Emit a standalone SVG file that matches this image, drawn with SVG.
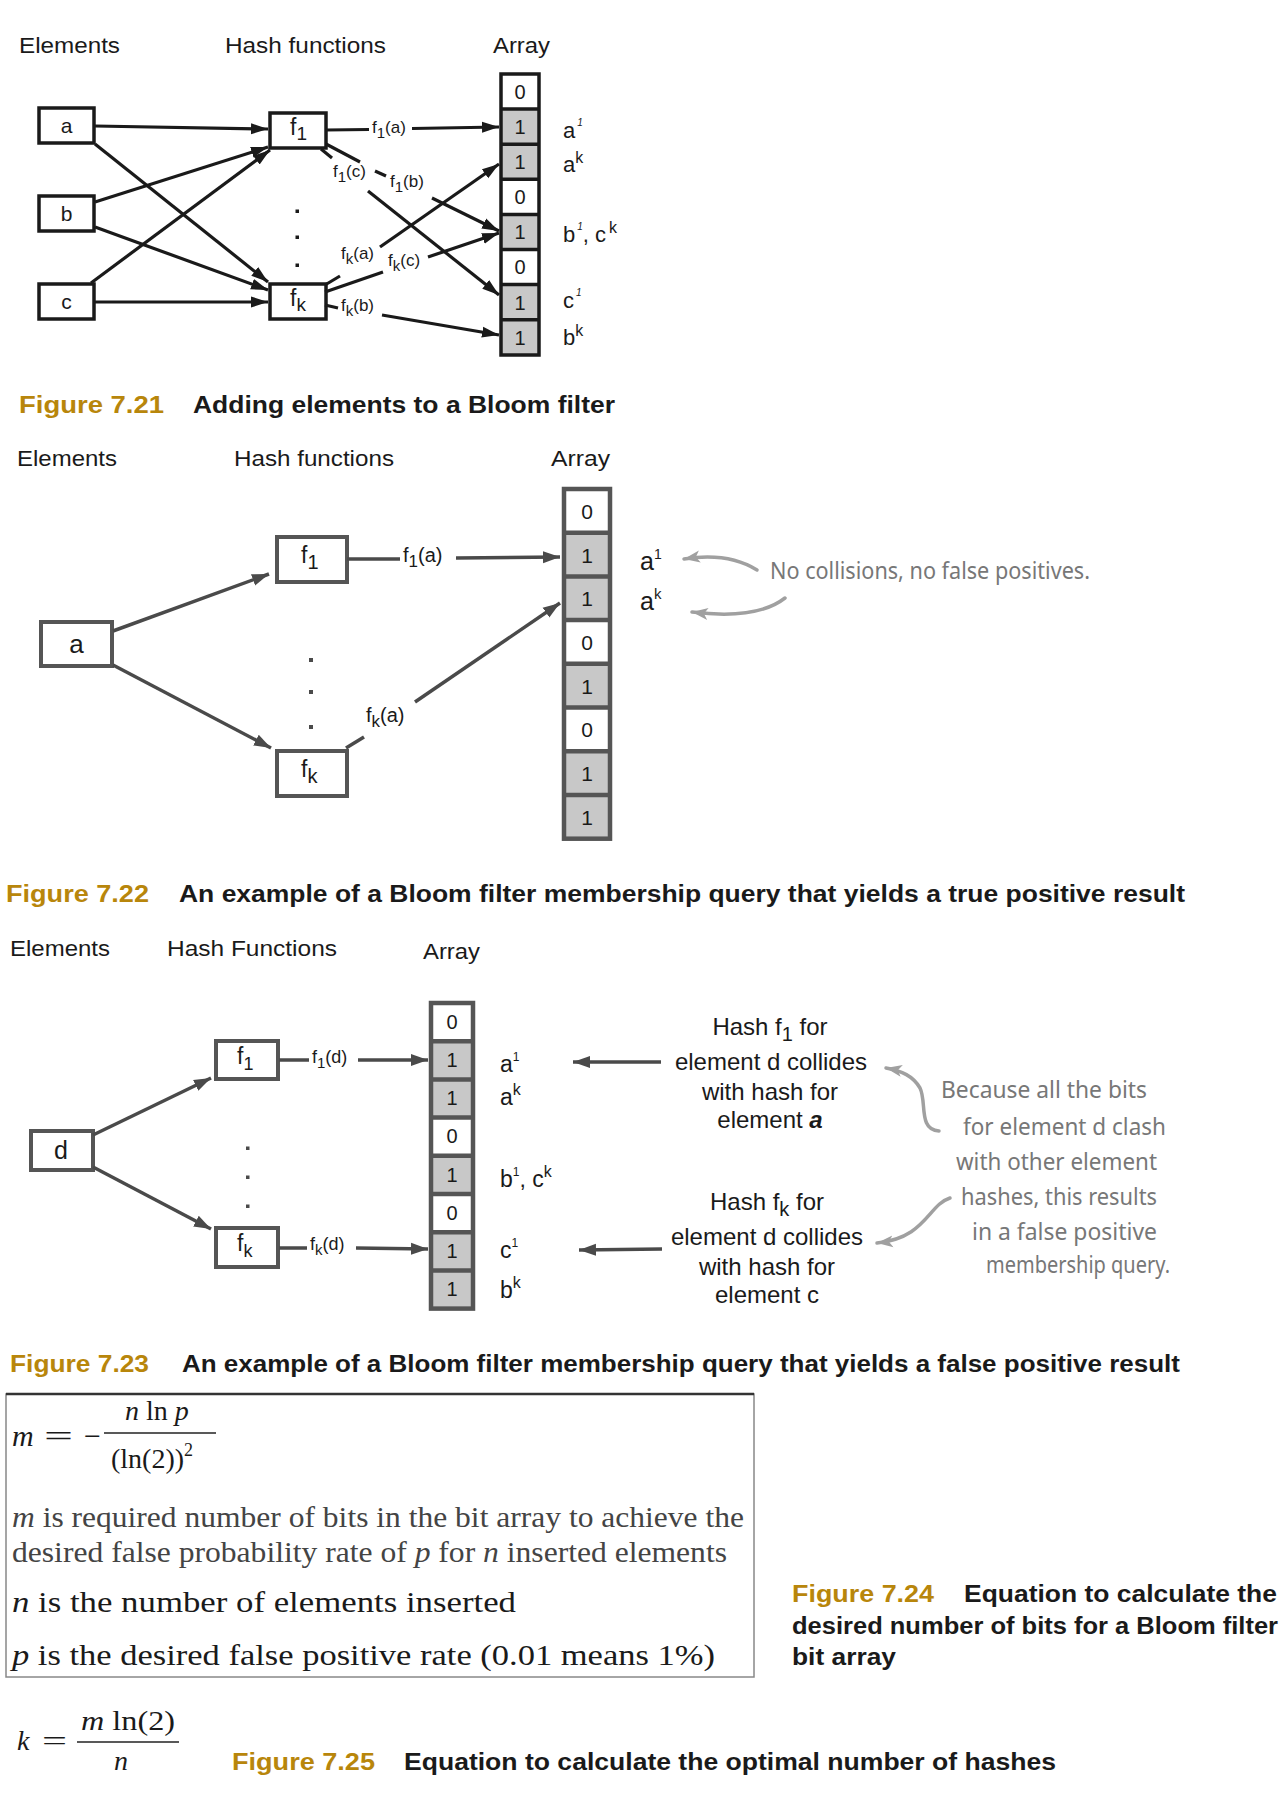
<svg xmlns="http://www.w3.org/2000/svg" width="1288" height="1796" viewBox="0 0 1288 1796">
<defs>
<marker id="ab" markerUnits="userSpaceOnUse" markerWidth="18" markerHeight="14" refX="17" refY="7" orient="auto"><path d="M0,1.5 L17,7 L0,12.5 Z" fill="#1a1a1a"/></marker>
<marker id="ag" markerUnits="userSpaceOnUse" markerWidth="18" markerHeight="14" refX="17" refY="7" orient="auto"><path d="M0,1 L17,7 L0,13 Z" fill="#4a4a4a"/></marker>
<marker id="al" markerUnits="userSpaceOnUse" markerWidth="18" markerHeight="14" refX="16" refY="7" orient="auto"><path d="M0,1 L16,7 L0,13 L4,7 Z" fill="#a0a0a0"/></marker>
<style>
text{font-family:"Liberation Sans",Arial,sans-serif;fill:#1a1a1a}
.hd{font-size:22px}
.cap{font-size:23px;font-weight:bold}
.gold{fill:#b8860b}
.c1{stroke:#1a1a1a;stroke-width:3.2;fill:none}
.c2{stroke:#4a4a4a;stroke-width:3.5;fill:none}
.b1{fill:#fff;stroke:#1a1a1a;stroke-width:3.5}
.b2{fill:#fff;stroke:#555;stroke-width:4}
.one{fill:#c8c8c8}
.zero{fill:#fff}
.dig{text-anchor:middle}
.hand{font-family:"Noto Sans",sans-serif;fill:#777;font-size:24px}
.ser{font-family:"Liberation Serif","Times New Roman",serif}
.ann{stroke:#a0a0a0;stroke-width:3.5;fill:none;stroke-linecap:round}
</style>
</defs>
<rect width="1288" height="1796" fill="#fff"/>

<!-- ================= Figure 7.21 ================= -->
<g id="fig721-headers">
<text class="hd" x="19" y="53" textLength="101" lengthAdjust="spacingAndGlyphs">Elements</text>
<text class="hd" x="225" y="53" textLength="161" lengthAdjust="spacingAndGlyphs">Hash functions</text>
<text class="hd" x="493" y="53" textLength="57" lengthAdjust="spacingAndGlyphs">Array</text>
</g>
<g id="fig721-a"><rect class="b1" x="39" y="108" width="55" height="35"/><text x="66.5" y="133" font-size="21" text-anchor="middle">a</text></g>
<g id="fig721-b"><rect class="b1" x="39" y="196" width="55" height="35"/><text x="66.5" y="221" font-size="21" text-anchor="middle">b</text></g>
<g id="fig721-c"><rect class="b1" x="39" y="284" width="55" height="35"/><text x="66.5" y="309" font-size="21" text-anchor="middle">c</text></g>
<g id="fig721-f1"><rect class="b1" x="270" y="113" width="56" height="35"/><text x="290" y="135" font-size="23">f<tspan font-size="19" dy="5">1</tspan></text></g>
<g id="fig721-fk"><rect class="b1" x="270" y="284" width="56" height="35"/><text x="290" y="306" font-size="23">f<tspan font-size="19" dy="5">k</tspan></text></g>
<g id="fig721-dots" fill="#1a1a1a"><rect x="295.5" y="209.5" width="3.5" height="3.5"/><rect x="295.5" y="235.5" width="3.5" height="3.5"/><rect x="295.5" y="263.5" width="3.5" height="3.5"/></g>
<g id="fig721-array">
<rect class="zero" x="501" y="74" width="38" height="35.1"/>
<rect class="one" x="501" y="109.1" width="38" height="35.1"/>
<rect class="one" x="501" y="144.2" width="38" height="35.1"/>
<rect class="zero" x="501" y="179.3" width="38" height="35.1"/>
<rect class="one" x="501" y="214.4" width="38" height="35.1"/>
<rect class="zero" x="501" y="249.5" width="38" height="35.1"/>
<rect class="one" x="501" y="284.6" width="38" height="35.1"/>
<rect class="one" x="501" y="319.7" width="38" height="35.3"/>
<g stroke="#1a1a1a" stroke-width="3.5" fill="none">
<rect x="501" y="74" width="38" height="281"/>
<path d="M501,109.1H539M501,144.2H539M501,179.3H539M501,214.4H539M501,249.5H539M501,284.6H539M501,319.7H539"/>
</g>
<g font-size="20">
<text class="dig" x="520" y="99">0</text><text class="dig" x="520" y="134">1</text><text class="dig" x="520" y="169">1</text><text class="dig" x="520" y="204">0</text><text class="dig" x="520" y="239">1</text><text class="dig" x="520" y="274">0</text><text class="dig" x="520" y="310">1</text><text class="dig" x="520" y="345">1</text>
</g>
</g>
<g id="fig721-labels">
<text x="563" y="138" font-size="22">a<tspan font-size="10" font-style="italic" dx="2" dy="-12">1</tspan></text>
<text x="563" y="172" font-size="22">a<tspan font-size="16" dy="-9">k</tspan></text>
<text x="563" y="242" font-size="22">b<tspan font-size="10" font-style="italic" dx="2" dy="-12">1</tspan><tspan dy="12">, c</tspan><tspan font-size="16" dx="3" dy="-9">k</tspan></text>
<text x="563" y="308" font-size="22">c<tspan font-size="10" font-style="italic" dx="2" dy="-12">1</tspan></text>
<text x="563" y="345" font-size="22">b<tspan font-size="16" dy="-9">k</tspan></text>
</g>
<g id="fig721-connectors">
<path class="c1" d="M95,126 L268,129" marker-end="url(#ab)"/>
<path class="c1" d="M95,144 L268,282" marker-end="url(#ab)"/>
<path class="c1" d="M95,202 L268,147" marker-end="url(#ab)"/>
<path class="c1" d="M95,227 L268,290" marker-end="url(#ab)"/>
<path class="c1" d="M91,283 L270,150" marker-end="url(#ab)"/>
<path class="c1" d="M95,302 L268,302" marker-end="url(#ab)"/>
<path class="c1" d="M326,130 L369,129.5"/>
<path class="c1" d="M412,128.5 L499,127" marker-end="url(#ab)"/>
<path class="c1" d="M321,149 L332,158"/>
<path class="c1" d="M368,191 L499,295" marker-end="url(#ab)"/>
<path class="c1" d="M326,144 L360,162"/>
<path class="c1" d="M375,171 L386,176"/>
<path class="c1" d="M432,198 L499,231" marker-end="url(#ab)"/>
<path class="c1" d="M325,285 L340,276"/>
<path class="c1" d="M380,247 L499,164" marker-end="url(#ab)"/>
<path class="c1" d="M325,292 L383,272"/>
<path class="c1" d="M428,257 L499,233" marker-end="url(#ab)"/>
<path class="c1" d="M325,305 L338,308"/>
<path class="c1" d="M382,315 L499,335" marker-end="url(#ab)"/>
</g>
<g id="fig721-edge-labels" font-size="17">
<text x="372" y="133">f<tspan font-size="15" dy="5">1</tspan><tspan dy="-5">(a)</tspan></text>
<text x="333" y="177">f<tspan font-size="15" dy="5">1</tspan><tspan dy="-5">(c)</tspan></text>
<text x="390" y="187">f<tspan font-size="15" dy="5">1</tspan><tspan dy="-5">(b)</tspan></text>
<text x="341" y="259">f<tspan font-size="15" dy="5">k</tspan><tspan dy="-5">(a)</tspan></text>
<text x="388" y="266">f<tspan font-size="15" dy="5">k</tspan><tspan dy="-5">(c)</tspan></text>
<text x="341" y="311">f<tspan font-size="15" dy="5">k</tspan><tspan dy="-5">(b)</tspan></text>
</g>
<g id="cap721">
<text class="cap gold" x="19" y="413" textLength="145" lengthAdjust="spacingAndGlyphs">Figure 7.21</text>
<text class="cap" x="193" y="413" textLength="422" lengthAdjust="spacingAndGlyphs">Adding elements to a Bloom filter</text>
</g>

<!-- ================= Figure 7.22 ================= -->
<g id="fig722-headers">
<text class="hd" x="17" y="466" textLength="100" lengthAdjust="spacingAndGlyphs">Elements</text>
<text class="hd" x="234" y="466" textLength="160" lengthAdjust="spacingAndGlyphs">Hash functions</text>
<text class="hd" x="551" y="466" textLength="59" lengthAdjust="spacingAndGlyphs">Array</text>
</g>
<g id="fig722-a"><rect class="b2" x="41" y="622" width="71" height="44"/><text x="76.5" y="653" font-size="26" text-anchor="middle">a</text></g>
<g id="fig722-f1"><rect class="b2" x="277" y="537" width="70" height="45"/><text x="301" y="563" font-size="23">f<tspan font-size="20" dy="6">1</tspan></text></g>
<g id="fig722-fk"><rect class="b2" x="277" y="751" width="70" height="45"/><text x="301" y="777" font-size="23">f<tspan font-size="20" dy="6">k</tspan></text></g>
<g id="fig722-dots" fill="#4a4a4a"><rect x="309" y="658" width="4" height="4"/><rect x="309" y="690" width="4" height="4"/><rect x="309" y="725" width="4" height="4"/></g>
<g id="fig722-array">
<rect class="zero" x="564" y="489" width="46" height="43.7"/>
<rect class="one" x="564" y="532.7" width="46" height="43.7"/>
<rect class="one" x="564" y="576.4" width="46" height="43.7"/>
<rect class="zero" x="564" y="620.1" width="46" height="43.7"/>
<rect class="one" x="564" y="663.8" width="46" height="43.7"/>
<rect class="zero" x="564" y="707.5" width="46" height="43.7"/>
<rect class="one" x="564" y="751.2" width="46" height="43.7"/>
<rect class="one" x="564" y="794.9" width="46" height="43.8"/>
<g stroke="#555" stroke-width="4.5" fill="none">
<rect x="564" y="489" width="46" height="349.7"/>
<path d="M564,532.7H610M564,576.4H610M564,620.1H610M564,663.8H610M564,707.5H610M564,751.2H610M564,794.9H610"/>
</g>
<g font-size="21">
<text class="dig" x="587" y="519">0</text><text class="dig" x="587" y="563">1</text><text class="dig" x="587" y="606">1</text><text class="dig" x="587" y="650">0</text><text class="dig" x="587" y="694">1</text><text class="dig" x="587" y="737">0</text><text class="dig" x="587" y="781">1</text><text class="dig" x="587" y="825">1</text>
</g>
</g>
<g id="fig722-labels">
<text x="640" y="570" font-size="25">a<tspan font-size="14" dy="-11">1</tspan></text>
<text x="640" y="610" font-size="25">a<tspan font-size="15" dy="-11">k</tspan></text>
</g>
<g id="fig722-connectors">
<path class="c2" d="M113,631 L269,574" marker-end="url(#ag)"/>
<path class="c2" d="M113,665 L271,748" marker-end="url(#ag)"/>
<path class="c2" d="M347,559 L400,559"/>
<path class="c2" d="M456,558 L560,557" marker-end="url(#ag)"/>
<path class="c2" d="M346,748 L364,737"/>
<path class="c2" d="M415,702 L560,603" marker-end="url(#ag)"/>
</g>
<g id="fig722-edge-labels" font-size="20">
<text x="403" y="562">f<tspan font-size="17" dy="5">1</tspan><tspan dy="-5">(a)</tspan></text>
<text x="366" y="722">f<tspan font-size="17" dy="5">k</tspan><tspan dy="-5">(a)</tspan></text>
</g>
<g id="fig722-annotation">
<path class="ann" d="M757,570 Q728,552 684,559" marker-end="url(#al)"/>
<path class="ann" d="M785,598 Q757,620 692,612" marker-end="url(#al)"/>
<text class="hand" x="770" y="579" textLength="320" lengthAdjust="spacingAndGlyphs">No collisions, no false positives.</text>
</g>
<g id="cap722">
<text class="cap gold" x="6" y="902" textLength="143" lengthAdjust="spacingAndGlyphs">Figure 7.22</text>
<text class="cap" x="179" y="902" textLength="1006" lengthAdjust="spacingAndGlyphs">An example of a Bloom filter membership query that yields a true positive result</text>
</g>

<!-- ================= Figure 7.23 ================= -->
<g id="fig723-headers">
<text class="hd" x="10" y="956" textLength="100" lengthAdjust="spacingAndGlyphs">Elements</text>
<text class="hd" x="167" y="956" textLength="170" lengthAdjust="spacingAndGlyphs">Hash Functions</text>
<text class="hd" x="423" y="959" textLength="57" lengthAdjust="spacingAndGlyphs">Array</text>
</g>
<g id="fig723-d"><rect class="b2" x="31" y="1131" width="62" height="39"/><text x="61" y="1159" font-size="25" text-anchor="middle">d</text></g>
<g id="fig723-f1"><rect class="b2" x="216" y="1041" width="62" height="38"/><text x="237" y="1064" font-size="23">f<tspan font-size="18" dy="6">1</tspan></text></g>
<g id="fig723-fk"><rect class="b2" x="216" y="1228" width="62" height="39"/><text x="237" y="1251" font-size="23">f<tspan font-size="18" dy="6">k</tspan></text></g>
<g id="fig723-dots" fill="#4a4a4a"><rect x="246" y="1146.5" width="3.5" height="3.5"/><rect x="246" y="1175.5" width="3.5" height="3.5"/><rect x="246" y="1204.5" width="3.5" height="3.5"/></g>
<g id="fig723-array">
<rect class="zero" x="431" y="1003" width="42" height="38.2"/>
<rect class="one" x="431" y="1041.2" width="42" height="38.2"/>
<rect class="one" x="431" y="1079.4" width="42" height="38.2"/>
<rect class="zero" x="431" y="1117.6" width="42" height="38.2"/>
<rect class="one" x="431" y="1155.8" width="42" height="38.2"/>
<rect class="zero" x="431" y="1194" width="42" height="38.2"/>
<rect class="one" x="431" y="1232.2" width="42" height="38.2"/>
<rect class="one" x="431" y="1270.4" width="42" height="38.2"/>
<g stroke="#555" stroke-width="4.5" fill="none">
<rect x="431" y="1003" width="42" height="305.6"/>
<path d="M431,1041.2H473M431,1079.4H473M431,1117.6H473M431,1155.8H473M431,1194H473M431,1232.2H473M431,1270.4H473"/>
</g>
<g font-size="20">
<text class="dig" x="452" y="1029">0</text><text class="dig" x="452" y="1067">1</text><text class="dig" x="452" y="1105">1</text><text class="dig" x="452" y="1143">0</text><text class="dig" x="452" y="1182">1</text><text class="dig" x="452" y="1220">0</text><text class="dig" x="452" y="1258">1</text><text class="dig" x="452" y="1296">1</text>
</g>
</g>
<g id="fig723-labels" font-size="23">
<text x="500" y="1072">a<tspan font-size="12" dy="-11">1</tspan></text>
<text x="500" y="1105">a<tspan font-size="16" dy="-10">k</tspan></text>
<text x="500" y="1187">b<tspan font-size="12" dy="-11">1</tspan><tspan dy="11">, c</tspan><tspan font-size="16" dy="-10">k</tspan></text>
<text x="500" y="1258">c<tspan font-size="12" dy="-11">1</tspan></text>
<text x="500" y="1298">b<tspan font-size="16" dy="-10">k</tspan></text>
</g>
<g id="fig723-connectors">
<path class="c2" d="M93,1135 L211,1078" marker-end="url(#ag)"/>
<path class="c2" d="M93,1167 L211,1229" marker-end="url(#ag)"/>
<path class="c2" d="M279,1060 L309,1060"/>
<path class="c2" d="M358,1060 L428,1060" marker-end="url(#ag)"/>
<path class="c2" d="M279,1248 L307,1248"/>
<path class="c2" d="M356,1248 L428,1249" marker-end="url(#ag)"/>
<path class="c2" d="M661,1062 L573,1062" marker-end="url(#ag)"/>
<path class="c2" d="M662,1249 L579,1250" marker-end="url(#ag)"/>
</g>
<g id="fig723-edge-labels" font-size="18">
<text x="312" y="1063">f<tspan font-size="15" dy="5">1</tspan><tspan dy="-5">(d)</tspan></text>
<text x="310" y="1250">f<tspan font-size="15" dy="5">k</tspan><tspan dy="-5">(d)</tspan></text>
</g>
<g id="fig723-note1" font-size="24" text-anchor="middle">
<text x="770" y="1035">Hash f<tspan font-size="20" dy="6">1</tspan><tspan dy="-6"> for</tspan></text>
<text x="771" y="1070">element d collides</text>
<text x="770" y="1100">with hash for</text>
<text x="770" y="1128">element <tspan font-weight="bold" font-style="italic">a</tspan></text>
</g>
<g id="fig723-note2" font-size="24" text-anchor="middle">
<text x="767" y="1210">Hash f<tspan font-size="20" dy="6">k</tspan><tspan dy="-6"> for</tspan></text>
<text x="767" y="1245">element d collides</text>
<text x="767" y="1275">with hash for</text>
<text x="767" y="1303">element c</text>
</g>
<g id="fig723-annotation">
<path class="ann" d="M939,1131 C918,1130 927,1102 920,1088 C913,1076 902,1071 886,1068" marker-end="url(#al)"/>
<path class="ann" d="M950,1198 C928,1205 926,1238 877,1243" marker-end="url(#al)"/>
<text class="hand" x="941" y="1098" textLength="206" lengthAdjust="spacingAndGlyphs">Because all the bits</text>
<text class="hand" x="963" y="1135" textLength="203" lengthAdjust="spacingAndGlyphs">for element d clash</text>
<text class="hand" x="956" y="1170" textLength="201" lengthAdjust="spacingAndGlyphs">with other element</text>
<text class="hand" x="961" y="1205" textLength="196" lengthAdjust="spacingAndGlyphs">hashes, this results</text>
<text class="hand" x="972" y="1240" textLength="185" lengthAdjust="spacingAndGlyphs">in a false positive</text>
<text class="hand" x="986" y="1273" textLength="184" lengthAdjust="spacingAndGlyphs">membership query.</text>
</g>
<g id="cap723">
<text class="cap gold" x="10" y="1372" textLength="139" lengthAdjust="spacingAndGlyphs">Figure 7.23</text>
<text class="cap" x="182" y="1372" textLength="998" lengthAdjust="spacingAndGlyphs">An example of a Bloom filter membership query that yields a false positive result</text>
</g>

<!-- ================= Figure 7.24 ================= -->
<g id="fig724-box">
<rect x="6" y="1394" width="748" height="283" fill="#fff" stroke="#888" stroke-width="1.5"/>
<path d="M6,1394 H754" stroke="#333" stroke-width="2.5"/>
<g font-size="29">
<text class="ser" x="12" y="1446" font-style="italic" font-size="30">m</text>
<text class="ser" x="44" y="1446" font-size="30" textLength="29" lengthAdjust="spacingAndGlyphs">=</text>
<text class="ser" x="84" y="1446" font-size="30">−</text>
<text class="ser" x="125" y="1420" font-size="28"><tspan font-style="italic">n</tspan> ln <tspan font-style="italic">p</tspan></text>
<path d="M104,1433 H216" stroke="#222" stroke-width="1.5"/>
<text class="ser" x="111" y="1468" font-size="28">(ln(2))<tspan font-size="18" dy="-12">2</tspan></text>
<text class="ser" x="12" y="1527" font-size="29" style="fill:#444" textLength="732" lengthAdjust="spacingAndGlyphs"><tspan font-style="italic">m</tspan> is required number of bits in the bit array to achieve the</text>
<text class="ser" x="12" y="1562" font-size="29" style="fill:#444" textLength="715" lengthAdjust="spacingAndGlyphs">desired false probability rate of <tspan font-style="italic">p</tspan> for <tspan font-style="italic">n</tspan> inserted elements</text>
<text class="ser" x="12" y="1612" font-size="29" textLength="504" lengthAdjust="spacingAndGlyphs"><tspan font-style="italic">n</tspan> is the number of elements inserted</text>
<text class="ser" x="12" y="1665" font-size="29" textLength="703" lengthAdjust="spacingAndGlyphs"><tspan font-style="italic">p</tspan> is the desired false positive rate (0.01 means 1%)</text>
</g>
</g>
<g id="cap724">
<text class="cap gold" x="792" y="1602" textLength="142" lengthAdjust="spacingAndGlyphs">Figure 7.24</text>
<text class="cap" x="964" y="1602" textLength="313" lengthAdjust="spacingAndGlyphs">Equation to calculate the</text>
<text class="cap" x="792" y="1634" textLength="486" lengthAdjust="spacingAndGlyphs">desired number of bits for a Bloom filter</text>
<text class="cap" x="792" y="1665" textLength="104" lengthAdjust="spacingAndGlyphs">bit array</text>
</g>

<!-- ================= Figure 7.25 ================= -->
<g id="fig725-formula">
<text class="ser" x="17" y="1750" font-size="28" font-style="italic">k</text>
<text class="ser" x="42" y="1750" font-size="28" textLength="25" lengthAdjust="spacingAndGlyphs">=</text>
<text class="ser" x="81" y="1730" font-size="28" textLength="94" lengthAdjust="spacingAndGlyphs"><tspan font-style="italic">m</tspan> ln(2)</text>
<path d="M77,1742 H179" stroke="#222" stroke-width="1.5"/>
<text class="ser" x="114" y="1770" font-size="28" font-style="italic">n</text>
</g>
<g id="cap725">
<text class="cap gold" x="232" y="1770" textLength="143" lengthAdjust="spacingAndGlyphs">Figure 7.25</text>
<text class="cap" x="404" y="1770" textLength="652" lengthAdjust="spacingAndGlyphs">Equation to calculate the optimal number of hashes</text>
</g>
</svg>
